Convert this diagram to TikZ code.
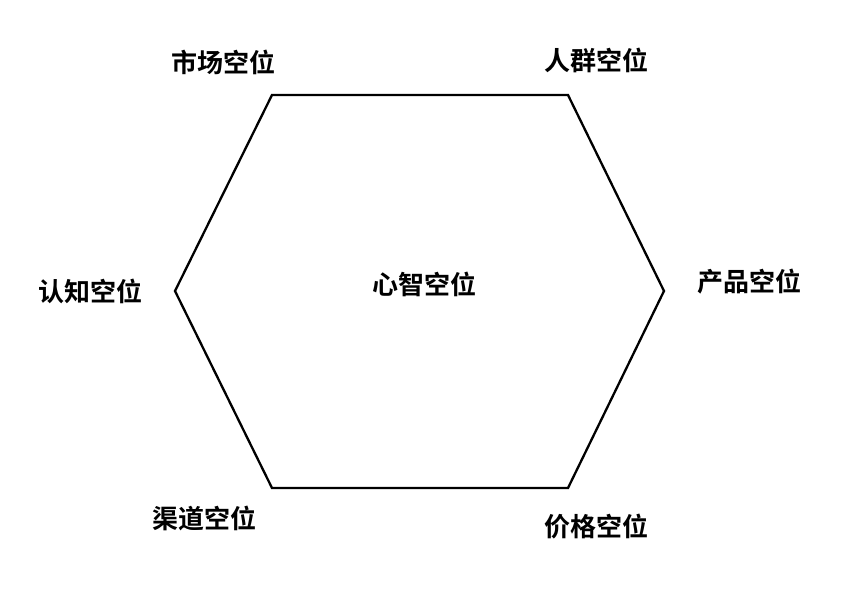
\documentclass[tikz,border=0pt]{standalone}
\usepackage{fontspec}
\newfontfamily\cjk{Noto Sans CJK SC}[BoldFont={Noto Sans CJK SC Bold}]
\usetikzlibrary{positioning}

\begin{document}
\begin{tikzpicture}[x=1pt,y=-1pt,
    vlabel/.style={font=\cjk\bfseries\fontsize{26}{26}\selectfont,inner sep=0pt},
    edge line/.style={draw=black,line width=2.3pt,line join=miter}]
  \useasboundingbox (0,0) rectangle (855,597);
  % corners of the hexagon
  \coordinate (tl) at (272,95);
  \coordinate (tr) at (568,95);
  \coordinate (r)  at (664,291);
  \coordinate (br) at (568,488);
  \coordinate (bl) at (272,488);
  \coordinate (l)  at (175,291);
  \draw[edge line] (tl) -- (tr) -- (r) -- (br) -- (bl) -- (l) -- cycle;
  % labels
  \node[vlabel] (market)   at (223,62)  {市场空位};
  \node[vlabel] (crowd)    at (596,60)  {人群空位};
  \node[vlabel] (product)  at (749,282) {产品空位};
  \node[vlabel] (price)    at (596,527) {价格空位};
  \node[vlabel] (channel)  at (204,518) {渠道空位};
  \node[vlabel] (cognize)  at (90,291)  {认知空位};
  \node[vlabel] (mind)     at (424,284) {心智空位};
\end{tikzpicture}
\end{document}
